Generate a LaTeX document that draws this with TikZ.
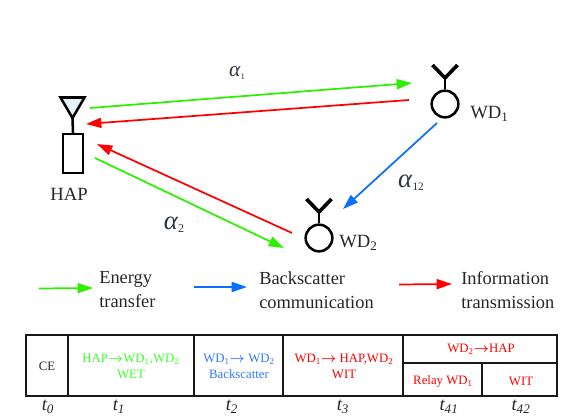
\documentclass[tikz,border=0pt]{standalone}
\usepackage{amsmath}
\usepackage{fontspec}
\setmainfont{Liberation Serif}
\usepackage{xcolor}
\usetikzlibrary{arrows.meta,positioning}
\definecolor{wetgreen}{RGB}{45,240,0}
\definecolor{bscblue}{RGB}{10,110,255}
\definecolor{witred}{RGB}{255,0,0}
\definecolor{wettext}{RGB}{60,255,40}
\definecolor{bsctext}{RGB}{50,120,255}
\definecolor{alphagray}{RGB}{45,55,65}
\definecolor{hapfill}{RGB}{228,242,252}
\newcommand{\chanlabel}[3]{{\fontsize{#1}{#1}\selectfont\textit{α}}\raisebox{-0.45ex}{\fontsize{#2}{8}\selectfont #3}}
\begin{document}
\begin{tikzpicture}[x=0.75pt,y=-0.75pt,
    link/.style={line width=1.3pt,-{Triangle[length=11.5pt,width=7.5pt]}},
    ant/.style={draw=black,line width=1.9pt},
    wd/.style={circle,ant,inner sep=0pt,minimum size=20pt},
    slot/.style={font=\fontsize{9.6}{12}\selectfont,align=center,inner sep=0pt},
    leg/.style={font=\fontsize{13.8}{18}\selectfont,align=left,anchor=west,inner sep=0pt,text=black!85},
    tick/.style={font=\fontsize{14}{14}\selectfont\itshape,inner sep=0pt,text=black!85}]
    \useasboundingbox (0,0) rectangle (581,417);

    % HAP
    \node[ant,fill=white,minimum width=15pt,minimum height=29pt,inner sep=0pt] (hap) at (73,153.5) {};
    \coordinate (hapTip) at (72.5,118);
    \draw[ant,fill=hapfill,line join=miter] (60.5,97.5) -- (84.5,97.5) -- (hapTip) -- cycle;
    \draw[ant] (hapTip) -- (hap.north);
    \node[font=\fontsize{14}{14}\selectfont,inner sep=0pt,text=black!85] (haplabel) at (69,194) {HAP};

    % Wireless devices
    \node[wd] (wd1) at (445,104) {};
    \node[wd] (wd2) at (319,238) {};
    \foreach \dev/\top in {wd1/78,wd2/212} {
        \path (\dev.center) ++(0,0) coordinate (c);
        \draw[ant] (\dev.north) -- (c |- 0,\top) coordinate (\dev fork);
        \draw[ant,line width=2.7pt] (\dev fork) -- ++(-12.5,-13);
        \draw[ant,line width=2.7pt] (\dev fork) -- ++(12.5,-13);
    }
    \node[leg,font=\fontsize{14}{17}\selectfont] (wd1label) at (470,114) {WD\textsubscript{1}};
    \node[leg,font=\fontsize{14}{17}\selectfont] (wd2label) at (339,243) {WD\textsubscript{2}};

    % Channels
    \coordinate (g1a) at (90,108);    \coordinate (g1b) at (412,83);
    \coordinate (r1a) at (409,100);   \coordinate (r1b) at (86,124);
    \coordinate (r2a) at (292,233);   \coordinate (r2b) at (97,144);
    \coordinate (g2a) at (95,158);    \coordinate (g2b) at (284,248);
    \coordinate (b1a) at (437,123);   \coordinate (b1b) at (343,209);
    \draw[link,wetgreen] (g1a) -- (g1b);
    \draw[link,witred] (r1a) -- (r1b);
    \draw[link,witred] (r2a) -- (r2b);
    \draw[link,wetgreen] (g2a) -- (g2b);
    \draw[link,bscblue] (b1a) -- (b1b);
    \node[text=alphagray,inner sep=0pt] (a1) at (237,73) {\chanlabel{16}{6.5}{1}};
    \node[text=alphagray,inner sep=0pt] (a2) at (174,225) {\chanlabel{20}{9}{2}};
    \node[text=alphagray,inner sep=0pt] (a12) at (411,183) {\chanlabel{20}{8.5}{12}};

    % Legend
    \foreach \name/\xa/\xb/\ya/\yb/\col in {lg/39/93/288.5/288/wetgreen,lb/194/247/287/287/bscblue,lr/399/452/284.5/284/witred} {
        \coordinate (\name a) at (\xa,\ya);
        \coordinate (\name b) at (\xb,\yb);
        \draw[link,\col] (\name a) -- (\name b);
    }
    \node[leg] (legE) at (99,290) {Energy\\transfer};
    \node[leg] (legB) at (259,290) {Backscatter\\communication};
    \node[leg] (legI) at (461,290) {Information\\transmission};

    % Time frame
    \draw[line width=1.5pt,black!90] (26,335) rectangle (557,396);
    \foreach \x in {68,194,283,403} {
        \draw[line width=1.5pt,black!90] (\x,335) -- (\x,396);
    }
    \draw[line width=1.5pt,black!90] (403,363) -- (557,363);
    \draw[line width=1.5pt,black!90] (482,363) -- (482,396);

    \node[slot,text=black!85] (ce) at (47,366) {CE};
    \node[slot,text=wettext] (s1) at (131,366) {HAP$\boldsymbol{\rightarrow}$WD\textsubscript{1},WD\textsubscript{2}\\WET};
    \node[slot,text=bsctext] (s2) at (239,366) {WD\textsubscript{1}$\boldsymbol{\rightarrow}$ WD\textsubscript{2}\\Backscatter};
    \node[slot,text=witred] (s3) at (344,366) {WD\textsubscript{1}$\boldsymbol{\rightarrow}$ HAP,WD\textsubscript{2}\\WIT};
    \node[slot,text=witred] (s4) at (481,349) {WD\textsubscript{2}$\boldsymbol{\rightarrow}$HAP};
    \node[slot,text=witred] (s41) at (443,381) {Relay WD\textsubscript{1}};
    \node[slot,text=witred] (s42) at (521,381) {WIT};

    % Slot durations
    \foreach \x/\sub in {48/0,119/1,232/2,343/3,449/41,521/42} {
        \node[tick] (t\sub) at (\x,407) {t\textsubscript{\sub}};
    }
\end{tikzpicture}
\end{document}
